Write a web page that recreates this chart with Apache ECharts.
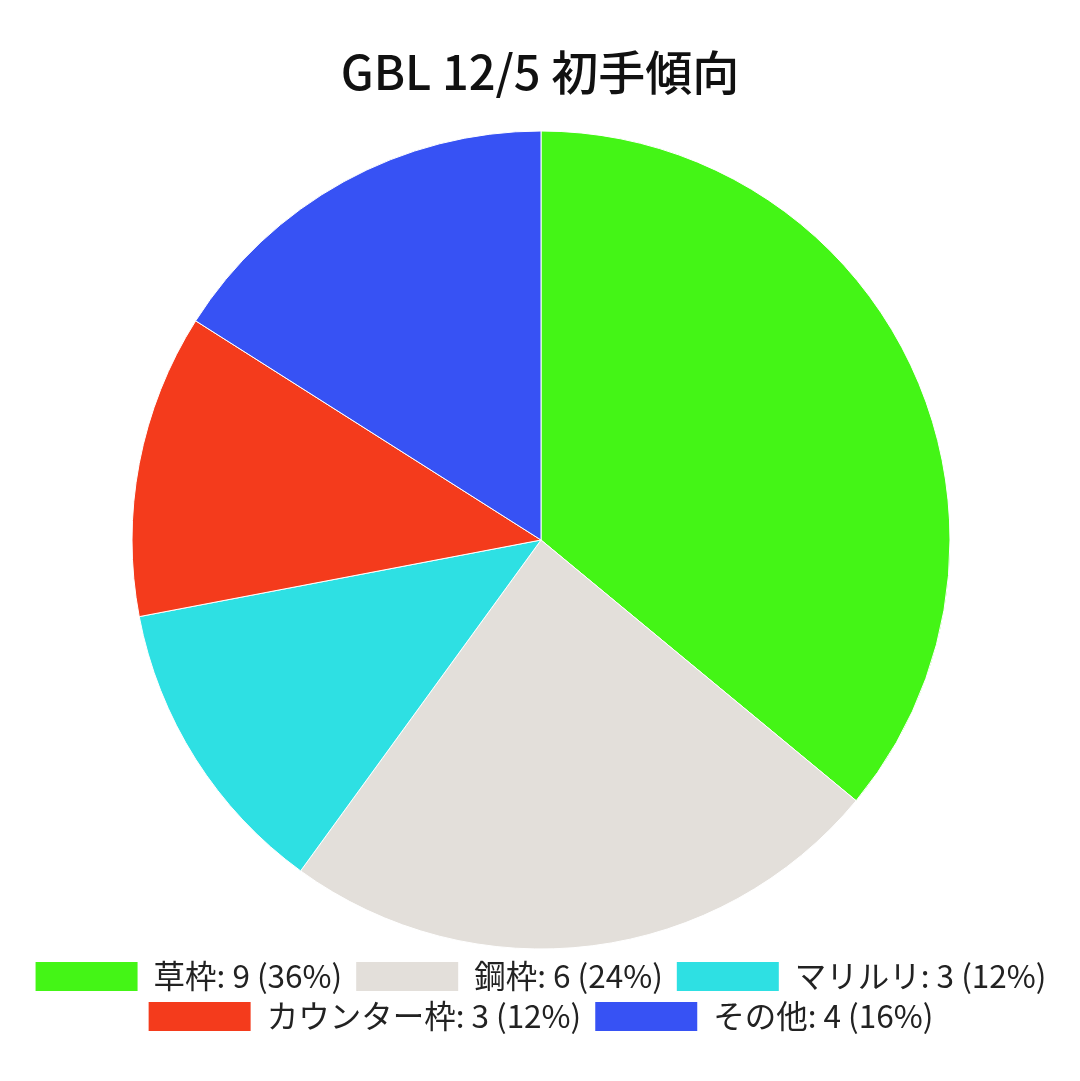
<!DOCTYPE html>
<html>
<head>
<meta charset="utf-8">
<script src="https://cdn.jsdelivr.net/npm/echarts@6/dist/echarts.min.js"></script>
<style>
  html, body { margin: 0; padding: 0; background: #fff; }
  #main { width: 1080px; height: 1081px; }
</style>
</head>
<body>
<div id="main"></div>
<script>
// 初手傾向
var categories = ['草枠', '鋼枠', 'マリルリ', 'カウンター枠', 'その他'];
var counts = [9, 6, 3, 3, 4];
var colors = ['#44F516', '#E3DFDA', '#2EE0E3', '#F43B1C', '#3752F4'];

var total = counts.reduce(function (a, b) { return a + b; }, 0);
var pieData = categories.map(function (name, i) {
  return { name: name, value: counts[i], itemStyle: { color: colors[i] } };
});

var legendText = {
  fontFamily: 'Noto Sans CJK JP',
  fontSize: 31.5,
  lineHeight: 31,
  color: '#222',
  padding: [0, 0, 0, 10]
};
var legendFormatter = function (name) {
  var i = categories.indexOf(name);
  var pct = Math.round(counts[i] / total * 100);
  return name + ': ' + counts[i] + ' (' + pct + '%)';
};
// 两行图例，每行居中
var makeLegend = function (names, top) {
  return {
    data: names,
    left: 'center',
    top: top,
    padding: 0,
    itemWidth: 104,
    itemHeight: 31,
    itemGap: 12,
    icon: 'rect',
    selectedMode: false,
    textStyle: legendText,
    formatter: legendFormatter
  };
};

var chart = echarts.init(document.getElementById('main'));
chart.setOption({
  animation: false,
  title: {
    text: 'GBL 12/5 初手傾向',
    left: 'center',
    top: 44,
    textStyle: {
      fontFamily: 'Noto Sans CJK JP',
      fontSize: 47,
      fontWeight: 500,
      color: '#111'
    }
  },
  legend: [
    makeLegend(categories.slice(0, 3), 960),
    makeLegend(categories.slice(3), 1000)
  ],
  series: [
    {
      type: 'pie',
      center: [541, 540],
      radius: 409,
      startAngle: 90,
      clockwise: true,
      label: { show: false },
      labelLine: { show: false },
      itemStyle: { borderColor: '#fff', borderWidth: 1 },
      emphasis: { disabled: true },
      data: pieData
    }
  ]
});
</script>
</body>
</html>
